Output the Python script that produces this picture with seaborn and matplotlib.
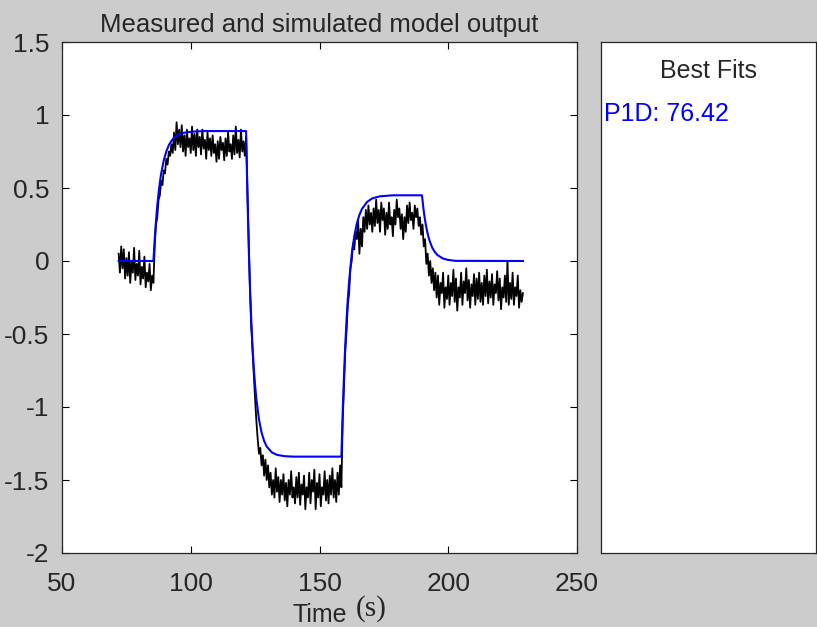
import numpy as np
import pandas as pd
import matplotlib
matplotlib.use("Agg")
import matplotlib.pyplot as plt
import seaborn as sns

# ---------------- data ----------------
t_start = 72.0
t_step = 0.5

# measured output, split by experiment phase (sample every 0.5 s from 72 s)
meas_pre = [0.05, -0.08, 0.1, -0.05, 0.08, -0.12, 0.02, -0.1, 0.06, -0.15,
            0.0, -0.08, 0.09, -0.13, -0.02, -0.1, 0.07, -0.16, -0.04, -0.12,
            0.03, -0.18, -0.08, -0.14, -0.02, -0.2, -0.1, -0.15]
meas_up1 = [0.1, 0.25, 0.3, 0.42, 0.45, 0.55, 0.52, 0.62, 0.6, 0.7,
            0.66, 0.75, 0.72, 0.8, 0.74, 0.88, 0.76, 0.95, 0.8, 0.9,
            0.78, 0.93, 0.75, 0.86, 0.72, 0.9, 0.78, 0.84, 0.74, 0.92,
            0.76, 0.87, 0.72, 0.9, 0.78, 0.85, 0.73, 0.9, 0.77, 0.83,
            0.7, 0.88, 0.76, 0.84, 0.72, 0.86, 0.74, 0.8, 0.68, 0.82,
            0.7, 0.85, 0.76, 0.81, 0.69, 0.84, 0.72, 0.88, 0.75, 0.8,
            0.7, 0.86, 0.73, 0.92, 0.74, 0.83, 0.71, 0.9, 0.75, 0.82,
            0.72, 0.85]
meas_down = [0.5, 0.15, -0.2, -0.45, -0.62, -0.8, -0.95, -1.1, -1.22, -1.32,
             -1.28, -1.4, -1.33, -1.47, -1.36, -1.5, -1.4, -1.55,
             -1.45, -1.6, -1.5, -1.62, -1.42, -1.58, -1.48, -1.65, -1.5, -1.6,
             -1.46, -1.64, -1.52, -1.68, -1.5, -1.6, -1.44, -1.62, -1.55, -1.66,
             -1.48, -1.62, -1.45, -1.67, -1.53, -1.6, -1.47, -1.7, -1.55, -1.62,
             -1.45, -1.66, -1.5, -1.58, -1.43, -1.7, -1.52, -1.62, -1.46, -1.68,
             -1.55, -1.6, -1.44, -1.64, -1.5, -1.66, -1.47, -1.6, -1.42, -1.62,
             -1.5, -1.65, -1.45, -1.6, -1.4, -1.55]
meas_up2 = [-1.1, -0.85, -0.62, -0.48, -0.3, -0.22, -0.05, 0.0, 0.12, 0.08,
            0.2, 0.15, 0.28, 0.05, 0.22, 0.1, 0.3, 0.2, 0.35, 0.22,
            0.38, 0.25, 0.33, 0.2, 0.36, 0.24, 0.42, 0.26, 0.35, 0.2,
            0.4, 0.28, 0.36, 0.18, 0.33, 0.22, 0.4, 0.25, 0.3, 0.17,
            0.35, 0.25, 0.42, 0.3, 0.36, 0.22, 0.32, 0.15, 0.3, 0.2,
            0.38, 0.26, 0.4, 0.28, 0.33, 0.22, 0.38, 0.3, 0.36, 0.24,
            0.3, 0.18]
meas_end = [0.25, 0.1, 0.15, -0.02, 0.05, -0.1, 0.0, -0.15, -0.05, -0.2,
            -0.08, -0.25, -0.1, -0.3, -0.15, -0.22, -0.08, -0.32, -0.18, -0.26,
            -0.1, -0.3, -0.15, -0.24, -0.06, -0.28, -0.12, -0.34, -0.18, -0.25,
            -0.08, -0.3, -0.14, -0.22, -0.05, -0.27, -0.13, -0.32, -0.16, -0.24,
            -0.09, -0.3, -0.12, -0.26, -0.08, -0.28, -0.15, -0.3, -0.1, -0.24,
            -0.06, -0.29, -0.14, -0.25, -0.09, -0.3, -0.16, -0.22, -0.07, -0.27,
            -0.12, -0.33, -0.18, -0.25, -0.1, -0.28, 0.0, -0.3, -0.15, -0.26,
            -0.08, -0.3, -0.18, -0.24, -0.1, -0.32, -0.2, -0.28, -0.22]

# simulated model output (P1D)
model_t = [72, 85.5, 86, 86.5, 87, 87.5, 88, 88.5, 89.5, 90.5, 91.5, 92.5,
           93.5, 95.5, 97.5, 100.5, 105.5, 121.5,
           122, 122.5, 123, 123.5, 124, 124.5, 125, 125.5, 126.5, 127.5,
           128.5, 129.5, 131.5, 133.5, 136.5, 140, 158.5,
           159, 159.5, 160, 160.5, 161, 161.5, 162.5, 163.5, 164.5, 165.5,
           166.5, 168.5, 170.5, 173.5, 178.5, 189.8,
           190.3, 190.8, 191.3, 191.8, 192.3, 192.8, 193.8, 194.8, 195.8,
           197.8, 199.8, 202.8, 229]
model_y = [0.0, 0.0, 0.15, 0.275, 0.379, 0.465, 0.538, 0.597, 0.688, 0.75,
           0.794, 0.823, 0.844, 0.868, 0.879, 0.886, 0.89, 0.89,
           0.455, 0.103, -0.178, -0.406, -0.589, -0.736, -0.854, -0.948,
           -1.086, -1.175, -1.233, -1.271, -1.311, -1.328, -1.337, -1.34, -1.34,
           -1.038, -0.787, -0.577, -0.404, -0.259, -0.139, 0.044, 0.169, 0.257,
           0.316, 0.357, 0.405, 0.429, 0.443, 0.45, 0.45,
           0.368, 0.302, 0.247, 0.202, 0.166, 0.136, 0.091, 0.061, 0.041,
           0.018, 0.008, 0.001, 0.0]

x_ticks = [50, 100, 150, 200, 250]
y_ticks = [-2, -1.5, -1, -0.5, 0, 0.5, 1, 1.5]
y_tick_labels = ["-2", "-1.5", "-1", "-0.5", "0", "0.5", "1", "1.5"]
fit_label = "P1D: 76.42"

# ---------------- build ----------------
measured = np.concatenate([meas_pre, meas_up1, meas_down, meas_up2, meas_end])
meas_t = t_start + t_step * np.arange(len(measured))
df_meas = pd.DataFrame({"t": meas_t, "y": measured})
df_model = pd.DataFrame({"t": model_t, "y": model_y})

plt.rcParams["font.family"] = ["Liberation Sans", "DejaVu Sans"]
plt.rcParams["axes.unicode_minus"] = False

W, H = 817, 627
TXT = "#262626"
fig = plt.figure(figsize=(W / 100, H / 100), dpi=100, facecolor="#cccccc")

def box(l, t, r, b):
    return [l / W, 1 - b / H, (r - l) / W, (b - t) / H]

def fy(py):
    return 1 - py / H

ax = fig.add_axes(box(62, 42, 577, 553))
ax.set_facecolor("white")

sns.lineplot(data=df_meas, x="t", y="y", ax=ax, color="black", linewidth=1.3,
             estimator=None, sort=False)
sns.lineplot(data=df_model, x="t", y="y", ax=ax, color="#0000ff", linewidth=1.5,
             estimator=None, sort=False)

ax.set_xlim(50, 250)
ax.set_ylim(-2, 1.5)
ax.set_xticks(x_ticks)
ax.set_xticklabels([str(v) for v in x_ticks])
ax.set_yticks(y_ticks)
ax.set_yticklabels(y_tick_labels)
ax.tick_params(direction="in", length=5, width=0.8, top=True, right=True,
               labelsize=19, colors="black", labelcolor=TXT)
ax.tick_params(axis="x", pad=14)
ax.tick_params(axis="y", pad=9)
for s in ax.spines.values():
    s.set_color(TXT)
    s.set_linewidth(0.9)
ax.set_xlabel("")
ax.set_ylabel("")

fig.text(319 / W, fy(32), "Measured and simulated model output",
         ha="center", va="baseline", fontsize=18.5, color=TXT)
fig.text(347 / W, fy(622), "Time", ha="right", va="baseline",
         fontsize=18, color=TXT)
fig.text(356 / W, fy(616), "(s)", ha="left", va="baseline",
         fontsize=21, color=TXT, family=["Liberation Serif", "DejaVu Serif"])

# side panel
ax2 = fig.add_axes(box(601, 42, 816, 553))
ax2.set_facecolor("white")
ax2.set_xticks([])
ax2.set_yticks([])
for s in ax2.spines.values():
    s.set_color(TXT)
    s.set_linewidth(0.9)
fig.text(708 / W, fy(78), "Best Fits", ha="center", va="baseline",
         fontsize=18, color=TXT)
fig.text(604 / W, fy(121), fit_label, ha="left", va="baseline",
         fontsize=18, color="#0000ff")

fig.savefig("out.png", dpi=100, facecolor=fig.get_facecolor())
